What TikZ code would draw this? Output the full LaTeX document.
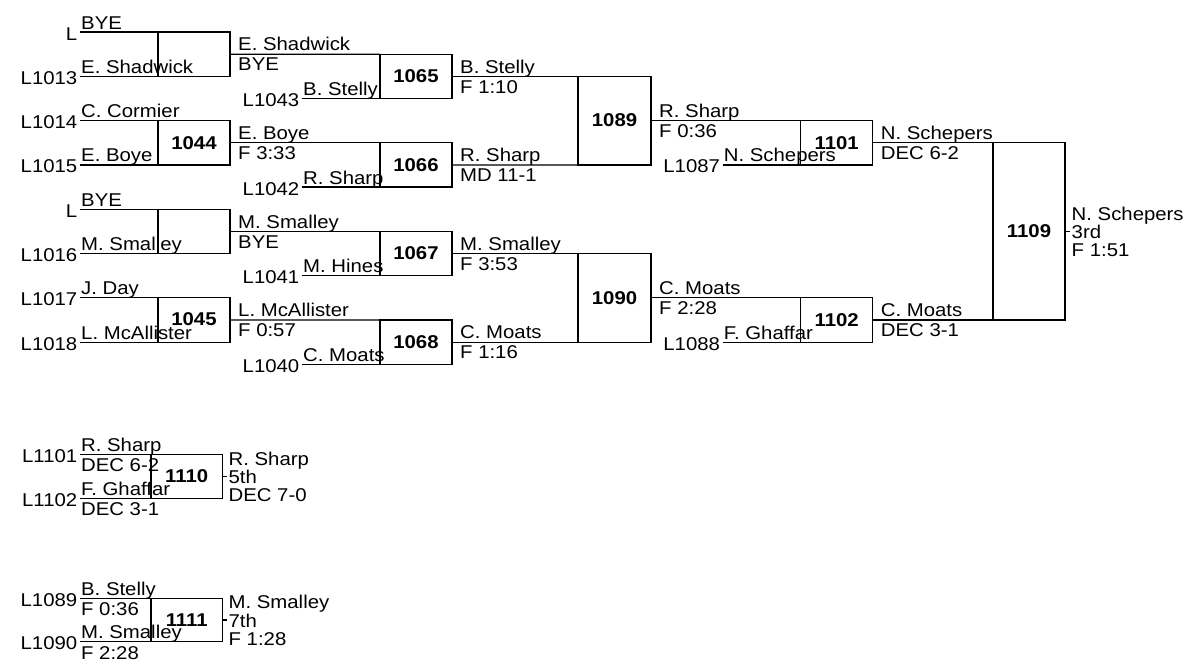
\documentclass[tikz,border=0pt]{standalone}
\usepackage{fontspec}
\setmainfont{Liberation Sans}[FakeStretch=1.1]
\usetikzlibrary{calc}
\newcommand{\bracketfont}{\fontsize{18.5}{18.5}\selectfont}
\tikzset{
  matchbox/.style={draw, line width=1.2pt, outer sep=0pt, inner sep=0pt, minimum width=72pt, minimum height=44.3pt, font=\bracketfont\bfseries},
  wire/.style={line width=1.2pt},
  seedlbl/.style={anchor=base east, inner sep=0pt, xshift=-2.5pt, yshift=-8pt},
  entname/.style={anchor=base west, inner sep=0pt, xshift=1pt, yshift=3pt},
  entscore/.style={anchor=base west, inner sep=0pt, xshift=1pt, yshift=-17.3pt},
  winname/.style={anchor=base west, inner sep=0pt, xshift=8pt, yshift=3.3pt},
  winscore/.style={anchor=base west, inner sep=0pt, xshift=8pt, yshift=-16.8pt},
  placeA/.style={anchor=base west, inner sep=0pt, xshift=1.5pt, yshift=11.2pt},
  placeB/.style={anchor=base west, inner sep=0pt, xshift=1.5pt, yshift=-7.6pt},
  placeC/.style={anchor=base west, inner sep=0pt, xshift=1.5pt, yshift=-25.6pt},
}

\begin{document}
\begin{tikzpicture}[x=1pt, y=-1pt, font=\bracketfont]
\useasboundingbox (0,0) rectangle (1186,662);
% --- match boxes ---
\node[matchbox] (bye1) at (194,54.15) {};
\node[matchbox] (m1044) at (194,142.75) {1044};
\node[matchbox] (bye2) at (194,231.35) {};
\node[matchbox] (m1045) at (194,319.95) {\raisebox{2pt}{1045}};
\node[matchbox] (m1065) at (416,76.3) {1065};
\node[matchbox] (m1066) at (416,164.9) {1066};
\node[matchbox] (m1067) at (416,253.5) {1067};
\node[matchbox] (m1068) at (416,342.1) {1068};
\node[matchbox, minimum width=73pt, minimum height=88.6pt] (m1089) at (614.5,120.6) {1089};
\node[matchbox, minimum width=73pt, minimum height=88.6pt] (m1090) at (614.5,297.8) {1090};
\node[matchbox] (m1101) at (836.7,142.75) {1101};
\node[matchbox] (m1102) at (836.7,319.95) {1102};
\node[matchbox, minimum height=177.2pt] (m1109) at (1029,231.35) {1109};
\node[matchbox, minimum width=71.5pt, minimum height=44pt] (m1110) at (186.7,476.3) {1110};
\node[matchbox, minimum width=71.5pt, minimum height=43.4pt] (m1111) at (186.7,620) {1111};
% --- round 1 entrants ---
\draw[wire] (bye1.north west) -- ++(-78,0) coordinate (sb1);
\node[seedlbl] (lb1) at (sb1) {L};
\node[entname] (nb1) at (sb1) {BYE};
\draw[wire] (bye1.south west) -- ++(-78,0) coordinate (s1013);
\node[seedlbl] (l1013) at (s1013) {L1013};
\node[entname] (n1013) at (s1013) {E. Shadwick};
\draw[wire] (m1044.north west) -- ++(-78,0) coordinate (s1014);
\node[seedlbl] (l1014) at (s1014) {L1014};
\node[entname] (n1014) at (s1014) {C. Cormier};
\draw[wire] (m1044.south west) -- ++(-78,0) coordinate (s1015);
\node[seedlbl] (l1015) at (s1015) {L1015};
\node[entname] (n1015) at (s1015) {E. Boye};
\draw[wire] (bye2.north west) -- ++(-78,0) coordinate (sb2);
\node[seedlbl] (lb2) at (sb2) {L};
\node[entname] (nb2) at (sb2) {BYE};
\draw[wire] (bye2.south west) -- ++(-78,0) coordinate (s1016);
\node[seedlbl] (l1016) at (s1016) {L1016};
\node[entname] (n1016) at (s1016) {M. Smalley};
\draw[wire] (m1045.north west) -- ++(-78,0) coordinate (s1017);
\node[seedlbl] (l1017) at (s1017) {L1017};
\node[entname] (n1017) at (s1017) {J. Day};
\draw[wire] (m1045.south west) -- ++(-78,0) coordinate (s1018);
\node[seedlbl] (l1018) at (s1018) {L1018};
\node[entname] (n1018) at (s1018) {L. McAllister};
% --- round 2 ---
\draw[wire] (bye1.east) -- (m1065.north west);
\node[winname] (wb1) at (bye1.east) {E. Shadwick};
\node[winscore] (rb1) at (bye1.east) {BYE};
\draw[wire] (m1065.south west) -- ++(-78,0) coordinate (s1043);
\node[seedlbl] (l1043) at (s1043) {L1043};
\node[entname] (n1043) at (s1043) {B. Stelly};
\draw[wire] (m1044.east) -- (m1066.north west);
\node[winname] (w1044) at (m1044.east) {E. Boye};
\node[winscore] (r1044) at (m1044.east) {F 3:33};
\draw[wire] (m1066.south west) -- ++(-78,0) coordinate (s1042);
\node[seedlbl] (l1042) at (s1042) {L1042};
\node[entname] (n1042) at (s1042) {R. Sharp};
\draw[wire] (bye2.east) -- (m1067.north west);
\node[winname] (wb2) at (bye2.east) {M. Smalley};
\node[winscore] (rb2) at (bye2.east) {BYE};
\draw[wire] (m1067.south west) -- ++(-78,0) coordinate (s1041);
\node[seedlbl] (l1041) at (s1041) {L1041};
\node[entname] (n1041) at (s1041) {M. Hines};
\draw[wire] (m1045.east) -- (m1068.north west);
\node[winname] (w1045) at (m1045.east) {L. McAllister};
\node[winscore] (r1045) at (m1045.east) {F 0:57};
\draw[wire] (m1068.south west) -- ++(-78,0) coordinate (s1040);
\node[seedlbl] (l1040) at (s1040) {L1040};
\node[entname] (n1040) at (s1040) {C. Moats};
% --- round 3 ---
\draw[wire] (m1065.east) -- (m1089.north west);
\node[winname] (w1065) at (m1065.east) {B. Stelly};
\node[winscore] (r1065) at (m1065.east) {F 1:10};
\draw[wire] (m1066.east) -- (m1089.south west);
\node[winname] (w1066) at (m1066.east) {R. Sharp};
\node[winscore] (r1066) at (m1066.east) {MD 11-1};
\draw[wire] (m1067.east) -- (m1090.north west);
\node[winname] (w1067) at (m1067.east) {M. Smalley};
\node[winscore] (r1067) at (m1067.east) {F 3:53};
\draw[wire] (m1068.east) -- (m1090.south west);
\node[winname] (w1068) at (m1068.east) {C. Moats};
\node[winscore] (r1068) at (m1068.east) {F 1:16};
% --- round 4 ---
\draw[wire] (m1089.east) -- (m1101.north west);
\node[winname] (w1089) at (m1089.east) {R. Sharp};
\node[winscore] (r1089) at (m1089.east) {F 0:36};
\draw[wire] (m1101.south west) -- ++(-78,0) coordinate (s1087);
\node[seedlbl] (l1087) at (s1087) {L1087};
\node[entname] (n1087) at (s1087) {N. Schepers};
\draw[wire] (m1090.east) -- (m1102.north west);
\node[winname] (w1090) at (m1090.east) {C. Moats};
\node[winscore] (r1090) at (m1090.east) {F 2:28};
\draw[wire] (m1102.south west) -- ++(-78,0) coordinate (s1088);
\node[seedlbl] (l1088) at (s1088) {L1088};
\node[entname] (n1088) at (s1088) {F. Ghaffar};
% --- 3rd place ---
\draw[wire] (m1101.east) -- (m1109.north west);
\node[winname] (w1101) at (m1101.east) {N. Schepers};
\node[winscore] (r1101) at (m1101.east) {DEC 6-2};
\draw[wire] (m1102.east) -- (m1109.south west);
\node[winname] (w1102) at (m1102.east) {C. Moats};
\node[winscore] (r1102) at (m1102.east) {DEC 3-1};
\draw[wire] (m1109.east) -- ++(5,0) coordinate (t1109);
\node[placeA] (p1109a) at (t1109) {N. Schepers};
\node[placeB] (p1109b) at (t1109) {3rd};
\node[placeC] (p1109c) at (t1109) {F 1:51};
% --- 5th place ---
\draw[wire] (m1110.north west) -- ++(-71,0) coordinate (s1101);
\node[seedlbl] (l1101) at (s1101) {L1101};
\node[entname] (n1101) at (s1101) {R. Sharp};
\node[entscore] (c1101) at (s1101) {DEC 6-2};
\draw[wire] (m1110.south west) -- ++(-71,0) coordinate (s1102);
\node[seedlbl] (l1102) at (s1102) {L1102};
\node[entname] (n1102) at (s1102) {F. Ghaffar};
\node[entscore] (c1102) at (s1102) {DEC 3-1};
\draw[wire] (m1110.east) -- ++(4.5,0) coordinate (t1110);
\node[placeA] (p1110a) at (t1110) {R. Sharp};
\node[placeB] (p1110b) at (t1110) {5th};
\node[placeC] (p1110c) at (t1110) {DEC 7-0};
% --- 7th place ---
\draw[wire] (m1111.north west) -- ++(-71,0) coordinate (s1089);
\node[seedlbl] (l1089) at (s1089) {L1089};
\node[entname] (n1089) at (s1089) {B. Stelly};
\node[entscore] (c1089) at (s1089) {F 0:36};
\draw[wire] (m1111.south west) -- ++(-71,0) coordinate (s1090);
\node[seedlbl] (l1090) at (s1090) {L1090};
\node[entname] (n1090) at (s1090) {M. Smalley};
\node[entscore] (c1090) at (s1090) {F 2:28};
\draw[wire] (m1111.east) -- ++(4.5,0) coordinate (t1111);
\node[placeA] (p1111a) at (t1111) {M. Smalley};
\node[placeB] (p1111b) at (t1111) {7th};
\node[placeC] (p1111c) at (t1111) {F 1:28};
\end{tikzpicture}
\end{document}
